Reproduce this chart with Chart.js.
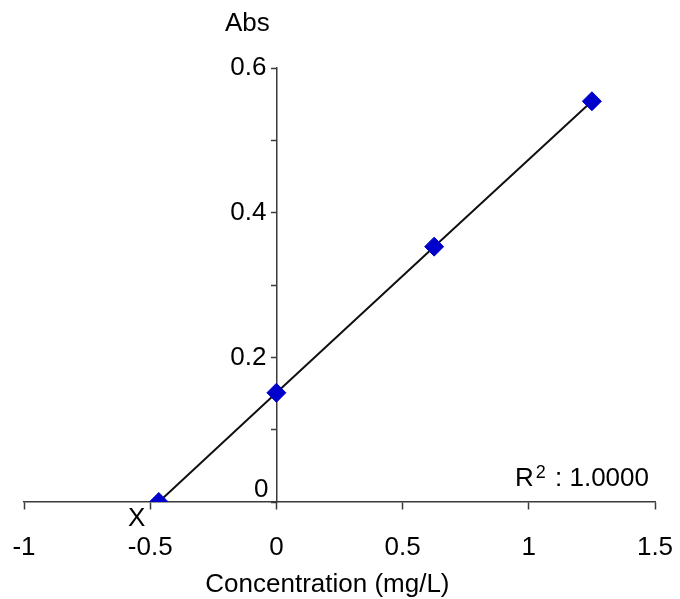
<!DOCTYPE html>
<html><head><meta charset="utf-8">
<script src="https://cdn.jsdelivr.net/npm/chart.js@4"></script>
<style>html,body{margin:0;padding:0;background:#fff}</style>
</head><body>
<canvas id="c" width="680" height="599"></canvas>
<script>
const concentrations = [-0.466, 0, 0.625, 1.25];
const absorbances = [0, 0.151, 0.353, 0.554];
const xTickValues = [-1, -0.5, 0, 0.5, 1, 1.5];
const yLabeledTicks = [0.2, 0.4, 0.6];
const xTitle = 'Concentration (mg/L)';
const yTitle = 'Abs';
const r2Value = '1.0000';
const interceptLabel = 'X';

const FONT = "'Liberation Sans', Arial, sans-serif";
const FS = 26;
const AXIS = '#3a3a3a';

const textPlugin = {
  id: 'texts',
  afterDraw(chart) {
    const ctx = chart.ctx;
    const xs = chart.scales.x, ys = chart.scales.y;
    const ox = xs.getPixelForValue(0), oy = ys.getPixelForValue(0);
    ctx.save();
    ctx.fillStyle = '#000';
    ctx.font = FS + 'px ' + FONT;
    ctx.textBaseline = 'middle';
    ctx.textAlign = 'right';
    yLabeledTicks.forEach(v => ctx.fillText(String(v), ox - 10, ys.getPixelForValue(v)));
    ctx.fillText('0', ox - 8, oy - 12);
    ctx.textAlign = 'center';
    ctx.fillText(yTitle, ox - 29, ys.getPixelForValue(0.6) - 44);
    ctx.fillText(interceptLabel, xs.getPixelForValue(concentrations[0]) - 22, oy + 17);
    ctx.fillText(xTitle, ox + 51, oy + 83);
    // R² : value, right-aligned at chart right
    ctx.textAlign = 'left';
    const rest = ' : ' + r2Value;
    const wR = ctx.measureText('R').width;
    const wRest = ctx.measureText(rest).width;
    ctx.font = '18px ' + FONT;
    const w2 = ctx.measureText('2').width + 4;
    const right = chart.chartArea.right - 6;
    const start = right - wR - w2 - wRest;
    const ty = oy - 23;
    ctx.fillText('2', start + wR + 2, ty - 6);
    ctx.font = FS + 'px ' + FONT;
    ctx.fillText('R', start, ty);
    ctx.fillText(rest, start + wR + w2, ty);
    ctx.restore();
  }
};

new Chart(document.getElementById('c'), {
  type: 'scatter',
  data: {
    datasets: [{
      data: concentrations.map((x, i) => ({x, y: absorbances[i]})),
      showLine: true,
      borderColor: '#111',
      borderWidth: 2,
      pointStyle: 'rectRot',
      pointRadius: 9.5,
      pointHoverRadius: 9.5,
      pointBackgroundColor: '#0000cc',
      pointBorderColor: '#0000cc',
      pointBorderWidth: 1
    }]
  },
  options: {
    responsive: false,
    animation: false,
    layout: { padding: { left: 24, right: 25, top: 68, bottom: 97 } },
    plugins: { legend: { display: false }, tooltip: { enabled: false } },
    scales: {
      x: {
        type: 'linear', min: -1, max: 1.5,
        position: { y: 0 },
        afterBuildTicks: s => { s.ticks = xTickValues.map(v => ({value: v})); },
        afterFit: s => { s.paddingLeft = 0; s.paddingRight = 0; },
        ticks: { font: { size: FS, family: FONT }, color: '#000', padding: 23, maxRotation: 0,
                 callback: v => String(v) },
        grid: { drawOnChartArea: false, drawTicks: true, tickLength: 7, tickColor: AXIS, tickWidth: 1.5 },
        border: { display: true, color: AXIS, width: 1.5 }
      },
      y: {
        type: 'linear', min: 0, max: 0.6,
        position: { x: 0 },
        afterFit: s => { s.paddingTop = 0; s.paddingBottom = 0; },
        ticks: { stepSize: 0.1, display: true, color: 'rgba(0,0,0,0)', font: { size: FS, family: FONT },
                 callback: () => '' },
        grid: { drawOnChartArea: false, drawTicks: true, tickLength: 5, tickColor: AXIS, tickWidth: 1.5 },
        border: { display: true, color: AXIS, width: 1.5 }
      }
    }
  },
  plugins: [textPlugin]
});
</script>
</body></html>
